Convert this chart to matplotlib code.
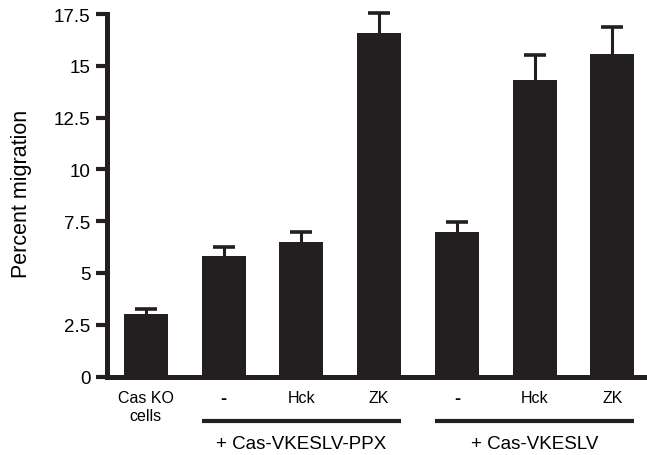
import matplotlib
matplotlib.use("Agg")
import matplotlib.pyplot as plt
import matplotlib.transforms as mtransforms

plt.rcParams['font.family'] = ['Liberation Sans', 'DejaVu Sans']

# data
labels = ["Cas KO\ncells", "-", "Hck", "ZK", "-", "Hck", "ZK"]
means = [3.0, 5.8, 6.5, 16.6, 7.0, 14.3, 15.55]
errors = [0.25, 0.45, 0.5, 0.95, 0.45, 1.2, 1.3]
groups = ["+ Cas-VKESLV-PPX", "+ Cas-VKESLV"]
group_members = [[1, 2, 3], [4, 5, 6]]

bar_color = "#231f20"

fig = plt.figure(figsize=(6.47, 4.56), dpi=100)
ax = fig.add_axes([107 / 647, 1 - 377.5 / 456, (645 - 107) / 647, (377.5 - 15) / 456])

x = list(range(len(means)))
# symmetric bars drawn behind the columns so only the upper half shows
eb = ax.errorbar(x, means, yerr=errors, fmt='none', ecolor=bar_color,
                 elinewidth=2.2, capsize=8, capthick=2.6, zorder=1)
for part in eb.lines[1] + eb.lines[2]:
    part.set_clip_on(False)
ax.bar(x, means, width=0.565, color=bar_color, zorder=2)

ax.set_xlim(-0.5, 6.42)
ax.set_ylim(0, 17.5)
ax.set_yticks([0, 2.5, 5, 7.5, 10, 12.5, 15, 17.5])
ax.set_yticklabels(["0", "2.5", "5", "7.5", "10", "12.5", "15", "17.5"], fontsize=13.5)
ax.set_xticks(x)
ax.set_xticklabels(labels, fontsize=11.5)
for t in ax.get_xticklabels():
    if t.get_text() == "-":
        t.set_fontweight('bold')
        t.set_fontsize(13)

for side in ["top", "right"]:
    ax.spines[side].set_visible(False)
for side in ["left", "bottom"]:
    ax.spines[side].set_linewidth(3.6)
    ax.spines[side].set_color(bar_color)
    ax.spines[side].set_capstyle('projecting')

ax.tick_params(axis='y', length=8, width=3, color=bar_color, pad=4)
ax.tick_params(axis='x', length=0, pad=10)

# group brackets under the bars
trans = mtransforms.blended_transform_factory(ax.transData, ax.transAxes)
for name, members in zip(groups, group_members):
    x0 = members[0] - 0.28
    x1 = members[-1] + 0.28
    ax.plot([x0, x1], [-0.123, -0.123], transform=trans, color=bar_color,
            linewidth=3, clip_on=False, solid_capstyle='butt')
    ax.text((members[0] + members[-1]) / 2, -0.186, name, transform=trans,
            ha='center', va='center', fontsize=13.5)

fig.text(22 / 647, 1 - 194 / 456, "Percent migration", rotation=90,
         ha='center', va='center', fontsize=15.5)

fig.savefig("out.png", dpi=100)
